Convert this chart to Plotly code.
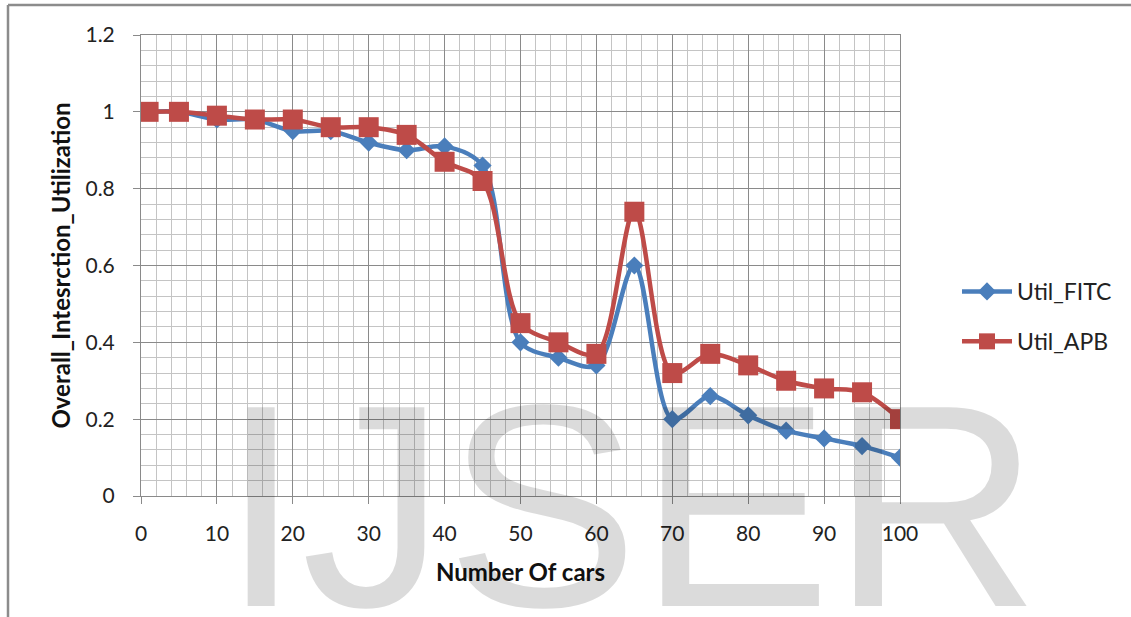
import plotly.graph_objects as go

# Number of cars at each measurement
cars = [1, 5, 10, 15, 20, 25, 30, 35, 40, 45, 50, 55, 60, 65, 70, 75, 80, 85, 90, 95, 100]

# Overall intersection utilization for each scheme
util_fitc = [1.0, 1.0, 0.98, 0.98, 0.95, 0.95, 0.92, 0.90, 0.91, 0.86, 0.40, 0.36, 0.34,
             0.60, 0.20, 0.26, 0.21, 0.17, 0.15, 0.13, 0.10]
util_apb = [1.0, 1.0, 0.99, 0.98, 0.98, 0.96, 0.96, 0.94, 0.87, 0.82, 0.45, 0.40, 0.37,
            0.74, 0.32, 0.37, 0.34, 0.30, 0.28, 0.27, 0.20]

x_ticks = list(range(0, 101, 10))
y_ticks = [0, 0.2, 0.4, 0.6, 0.8, 1.0, 1.2]
y_tick_text = ["0", "0.2", "0.4", "0.6", "0.8", "1", "1.2"]

BLUE = "#4a7ebb"
RED = "#be4b48"
MAJOR = "#8a8a8a"
MINOR = "#c4c4c4"
FONT = "Lato"

fig = go.Figure()
fig.add_trace(go.Scatter(
    x=cars, y=util_fitc, name="Util_FITC", mode="lines+markers",
    line=dict(color=BLUE, width=4.5, shape="spline", smoothing=0.9),
    marker=dict(symbol="diamond", size=14, color=BLUE, line=dict(width=0)),
    legendgroup="a",
))
fig.add_trace(go.Scatter(
    x=cars, y=util_apb, name="Util_APB", mode="lines+markers",
    line=dict(color=RED, width=4.5, shape="spline", smoothing=0.9),
    marker=dict(symbol="square", size=20, color=RED, line=dict(width=0)),
    legendgroup="b",
))

# plot area spans px 141..900 horizontally and 35..496 vertically
L, R, T, B = 141, 231, 35, 121
W, H = 1131, 617
pw, ph = W - L - R, H - T - B


def px_x(px):
    return (px - L) / pw


def px_y(py):
    return (H - B - py) / ph


# outer frame (top and left edges)
fig.add_shape(type="line", xref="paper", yref="paper",
              x0=px_x(8), x1=px_x(W + 5), y0=px_y(5), y1=px_y(5),
              line=dict(color="#8c8c8c", width=2.5))
fig.add_shape(type="line", xref="paper", yref="paper",
              x0=px_x(8), x1=px_x(8), y0=px_y(5), y1=px_y(H + 5),
              line=dict(color="#8c8c8c", width=2.5))

# watermark lettering
fig.add_annotation(
    text="IJSER", xref="paper", yref="paper",
    x=px_x(630), y=px_y(342), xanchor="center", yanchor="top",
    showarrow=False,
    font=dict(family="Liberation Sans, Arial", size=289, color="rgba(0,0,0,0.14)"),
)

fig.update_xaxes(
    range=[0, 100], tickvals=x_ticks, ticks="outside", ticklen=7, tickcolor=MAJOR,
    showgrid=True, gridcolor=MAJOR, gridwidth=1,
    minor=dict(dtick=2, tick0=0, showgrid=True, gridcolor=MINOR, gridwidth=1),
    showline=True, linecolor=MAJOR, linewidth=1, mirror=True, zeroline=False,
    tickfont=dict(family=FONT, size=21, color="#222"), ticklabelstandoff=12,
    title=dict(text="<b>Number Of cars</b>", font=dict(family=FONT, size=24, color="#111"),
               standoff=19),
)
fig.update_yaxes(
    range=[0, 1.2], tickvals=y_ticks, ticktext=y_tick_text, ticks="outside", ticklen=7,
    tickcolor=MAJOR,
    showgrid=True, gridcolor=MAJOR, gridwidth=1,
    minor=dict(dtick=0.04, tick0=0, showgrid=True, gridcolor=MINOR, gridwidth=1),
    showline=True, linecolor=MAJOR, linewidth=1, mirror=True, zeroline=False,
    tickfont=dict(family=FONT, size=21, color="#222"), ticklabelstandoff=14,
    title=dict(text="<b>Overall_Intesrction_Utilization</b>",
               font=dict(family=FONT, size=24, color="#111"), standoff=8),
)

fig.update_layout(
    width=W, height=H,
    margin=dict(l=L, r=R, t=T, b=B),
    paper_bgcolor="white", plot_bgcolor="white",
    font=dict(family=FONT),
    legend=dict(
        x=px_x(957), y=px_y(270), xanchor="left", yanchor="top",
        font=dict(family=FONT, size=23, color="#222"),
        traceorder="grouped", tracegroupgap=17, itemwidth=50,
        bgcolor="rgba(0,0,0,0)",
    ),
    showlegend=True,
)

fig.write_html("out.html")
